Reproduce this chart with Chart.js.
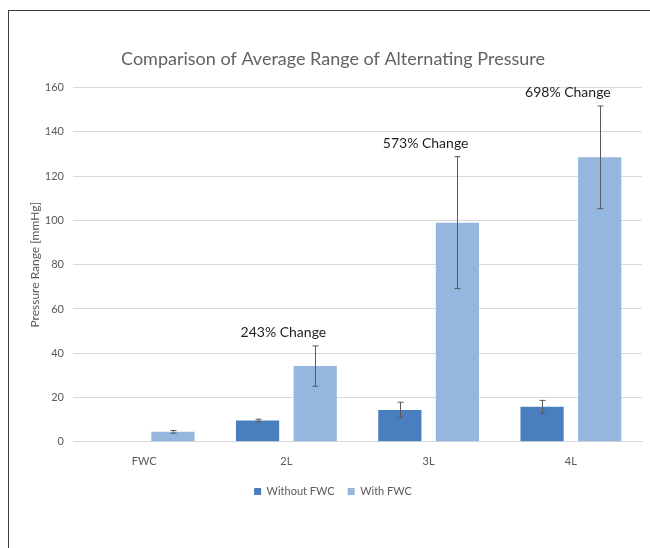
<!DOCTYPE html>
<html>
<head>
<meta charset="utf-8">
<script src="https://cdn.jsdelivr.net/npm/chart.js@4/dist/chart.umd.min.js"></script>
<style>
  html, body { margin: 0; padding: 0; background: #fff; }
  #wrap { position: relative; width: 650px; height: 548px; overflow: hidden; }
  #frame { position: absolute; left: 8px; top: 10px; width: 700px; height: 600px;
           border-left: 1px solid #3a3a3a; border-top: 1px solid #3a3a3a; }
  #pressureChart { position: absolute; left: 0; top: 0; }
</style>
</head>
<body>
<div id="wrap">
  <div id="frame"></div>
  <canvas id="pressureChart" width="650" height="548"></canvas>
</div>
<script>
const categories = ['FWC', '2L', '3L', '4L'];
const withoutFwc = [null, 9.6, 14.4, 15.8];
const withoutFwcErr = [null, 0.6, 3.5, 2.9];
const withFwc = [4.5, 34.2, 99.0, 128.5];
const withFwcErr = [0.6, 9.1, 29.8, 23.2];
const changeLabels = [null, '243% Change', '573% Change', '698% Change'];

const errors = [withoutFwcErr, withFwcErr];

// error bars + "% Change" notes over the light bars
const errorBarPlugin = {
  id: 'errorBars',
  afterDatasetsDraw(chart) {
    const ctx = chart.ctx;
    const yScale = chart.scales.y;
    ctx.save();
    ctx.strokeStyle = '#5a5a5a';
    ctx.lineWidth = 1;
    chart.data.datasets.forEach((ds, i) => {
      const meta = chart.getDatasetMeta(i);
      meta.data.forEach((bar, j) => {
        const v = ds.data[j];
        const e = errors[i][j];
        if (v == null || e == null) return;
        const x = Math.round(bar.x) + 0.5;
        const top = yScale.getPixelForValue(v + e);
        const bot = yScale.getPixelForValue(v - e);
        ctx.beginPath();
        ctx.moveTo(x, top); ctx.lineTo(x, bot);
        ctx.moveTo(x - 3, top); ctx.lineTo(x + 3, top);
        ctx.moveTo(x - 3, bot); ctx.lineTo(x + 3, bot);
        ctx.stroke();
      });
    });
    ctx.fillStyle = '#1e1e1e';
    ctx.font = '14px Lato';
    ctx.textAlign = 'center';
    ctx.textBaseline = 'middle';
    const xScale = chart.scales.x;
    changeLabels.forEach((txt, j) => {
      if (!txt) return;
      const top = yScale.getPixelForValue(withFwc[j] + withFwcErr[j]);
      ctx.fillText(txt, xScale.getPixelForValue(j) - 3, top - 13);
    });
    ctx.restore();
  }
};

new Chart(document.getElementById('pressureChart'), {
  type: 'bar',
  data: {
    labels: categories,
    datasets: [{
      label: 'Without FWC',
      data: withoutFwc,
      backgroundColor: '#4a7fbf',
      categoryPercentage: 0.81,
      barPercentage: 0.75
    }, {
      label: 'With FWC',
      data: withFwc,
      backgroundColor: '#94b6df',
      categoryPercentage: 0.81,
      barPercentage: 0.75
    }]
  },
  options: {
    responsive: false,
    animation: false,
    layout: { padding: { left: 24, right: 8, top: 48, bottom: 41 } },
    plugins: {
      title: {
        display: true,
        text: 'Comparison of Average Range of Alternating Pressure',
        color: '#626262',
        font: { family: 'Lato', size: 18, weight: 'normal' },
        padding: { top: 0, bottom: 18 }
      },
      legend: {
        position: 'bottom',
        labels: {
          color: '#595959',
          font: { family: 'Lato', size: 11 },
          boxWidth: 7,
          boxHeight: 7,
          padding: 13
        }
      },
      tooltip: { enabled: false }
    },
    scales: {
      x: {
        grid: { display: false },
        border: { display: true, color: '#d9d9d9' },
        ticks: { color: '#595959', font: { family: 'Lato', size: 11 }, padding: 5 }
      },
      y: {
        min: 0,
        max: 160,
        afterFit(scale) { scale.width = 49; },
        ticks: { stepSize: 20, color: '#595959', font: { family: 'Lato', size: 11 }, padding: 9 },
        grid: { color: '#d9d9d9', drawTicks: false },
        border: { display: false },
        title: {
          display: true,
          text: 'Pressure Range [mmHg]',
          color: '#595959',
          font: { family: 'Lato', size: 12 },
          padding: 4
        }
      }
    }
  },
  plugins: [errorBarPlugin]
});
</script>
</body>
</html>
